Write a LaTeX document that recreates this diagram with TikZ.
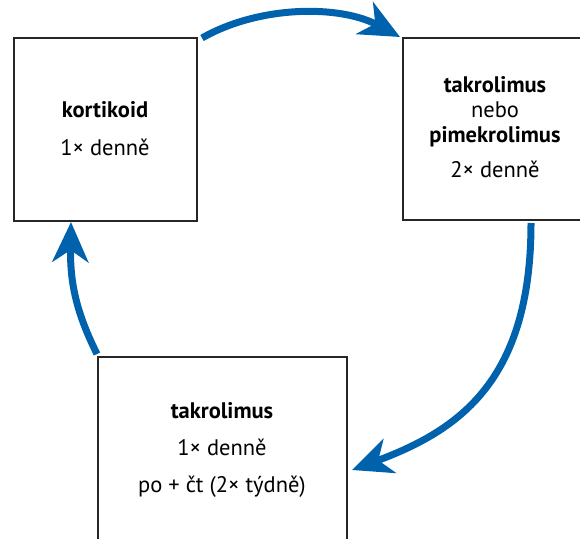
\documentclass[tikz,border=0pt]{standalone}
\usepackage{fontspec}
\setmainfont{PT Sans}
\usetikzlibrary{arrows.meta}
\definecolor{arrowblue}{RGB}{0,98,172}
\begin{document}
\begin{tikzpicture}[x=1pt,y=-1pt,
  box/.style={draw=black!85, line width=1.1pt, inner sep=0pt, outer sep=0pt, anchor=north west},
  lbl/.style={anchor=base, inner sep=0pt, font=\fontsize{22.5}{26}\selectfont},
  bl/.style={anchor=base, inner sep=0pt, font=\fontsize{22.5}{26}\selectfont\bfseries},
  flow/.style={draw=arrowblue, line width=7pt, -{Stealth[length=40pt,width=36pt,inset=12pt,fill=arrowblue]}}]
\useasboundingbox (0,0) rectangle (580,538);
\clip (0,0) rectangle (580,538);
\node[box, minimum width=183pt, minimum height=183pt] (b1) at (14,38) {};
\node[box, minimum width=184pt, minimum height=182pt] (b2) at (403,38) {};
\node[box, minimum width=249pt, minimum height=200pt] (b3) at (98,357) {};
% texts
\node[bl] (t1a) at (105,117) {kortikoid};
\node[lbl] (t1b) at (105,155) {1× denně};
\node[bl] (t2a) at (495,92) {takrolimus};
\node[lbl] (t2b) at (495,117) {nebo};
\node[bl] (t2c) at (495,142) {pimekrolimus};
\node[lbl] (t2d) at (495,177) {2× denně};
\node[bl] (t3a) at (222,418) {takrolimus};
\node[lbl] (t3b) at (222,455) {1× denně};
\node[lbl] (t3c) at (222,492) {po + čt (2× týdně)};
% arrows
\draw[flow] ([shift={(5,0)}]b1.north east) .. controls (260,5) and (340,5) .. ([shift={(-3,-1)}]b2.north west);
\draw[flow] ([shift={(128,3)}]b2.south west) .. controls (531,380) and (460,430) .. ([shift={(5,113)}]b3.north east);
\draw[flow] ([shift={(-1,-3)}]b3.north west) .. controls (75,310) and (70,280) .. ([shift={(57,1)}]b1.south west);
\end{tikzpicture}
\end{document}
